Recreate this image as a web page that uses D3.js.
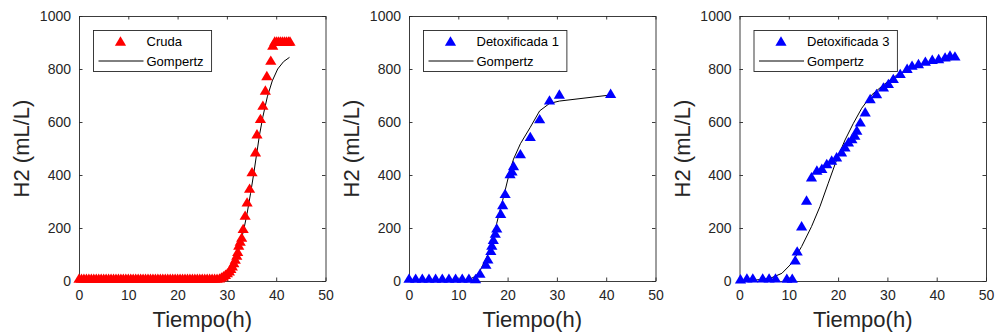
<!DOCTYPE html>
<html><head><meta charset="utf-8">
<script src="https://cdn.jsdelivr.net/npm/d3@7"></script>
<style>
html,body{margin:0;padding:0;background:#fff;}
svg{display:block;font-family:"Liberation Sans",Arial,Helvetica,sans-serif;}
</style></head>
<body><svg id="chart" width="995" height="335"></svg>
<script>
// ---- data ----
const xTicks = [0, 10, 20, 30, 40, 50];
const yTicks = [0, 200, 400, 600, 800, 1000];
const xLabel = "Tiempo(h)";
const yLabel = "H2 (mL/L)";
const fitName = "Gompertz";
const seriesNames = ["Cruda", "Detoxificada 1", "Detoxificada 3"];
const seriesColors = ["#ff0000", "#0000ff", "#0000ff"];

const crudaTime = [0,0.5,1,1.5,2,2.5,3,3.5,4,4.5,5,5.5,6,6.5,7,7.5,8,8.5,9,9.5,10,10.5,11,11.5,12,12.5,13,13.5,14,14.5,15,15.5,16,16.5,17,17.5,18,18.5,19,19.5,20,20.5,21,21.5,22,22.5,23,23.5,24,24.5,25,25.5,26,26.5,27,27.5,28,28.5,
  28.9,29.3,29.7,30.1,30.5,30.8,31.1,31.4,31.7,32.0,32.2,32.4,32.7,33.0,33.3,33.7,34.1,34.6,35.1,35.8,36.1,36.8,37.3,37.8,38.1,38.9,39.3,39.7,40.1,40.5,40.9,41.3,41.7,42.1,42.5,42.8];
const crudaH2 = [5,5,5,5,5,5,5,5,5,5,5,5,5,5,5,5,5,5,5,5,5,5,5,5,5,5,5,5,5,5,5,5,5,5,5,5,5,5,5,5,5,5,5,5,5,5,5,5,5,5,5,5,5,5,5,5,5,6,
  10,14,20,26,33,42,52,64,77,92,106,130,145,160,193,243,293,345,407,482,550,608,658,715,770,828,885,900,900,900,900,900,900,900,900,900];
const crudaFitTime = [0,28,29,30.3,31.4,32.1,32.7,33.4,34.1,34.8,35.4,36.0,36.6,37.3,38.2,39.2,40.3,41.5,42.7];
const crudaFitH2 =   [3,3,4,10,45,90,140,192,255,331,400,475,550,620,695,755,800,828,844];

const detox1Time = [0,1.35,2.7,4.05,5.4,6.75,8.1,9.45,10.8,12.15,13.5,14.4,15.6,16.0,16.6,16.8,17.1,17.5,17.8,18.6,19.0,19.5,20.5,20.9,21.2,22.6,24.6,26.5,28.5,30.5,40.9];
const detox1H2 =   [5,5,5,5,5,5,5,5,5,5,4,24,58,78,110,130,152,175,195,250,283,325,400,410,430,475,540,607,678,700,703];
const detox1FitTime = [0,1.35,2.7,4.05,5.4,6.75,8.1,9.45,10.8,12.15,13.5,14.4,15.6,16.0,16.6,16.8,17.1,17.5,17.8,18.6,19.0,19.5,20.5,20.9,21.2,22.6,24.6,26.5,28.5,30.5,40.9];
const detox1FitH2 =   [0,0,0,0,0,0,0,1,2,5,18,38,85,100,135,150,170,195,218,278,305,342,418,442,460,518,580,642,670,679,702];

const detox3Time = [0.2,1.5,2.7,4.7,6.0,7.3,9.6,10.7,11.3,11.7,12.6,13.6,14.6,15.7,16.7,17.7,18.7,19.7,20.7,21.4,22.1,22.8,23.4,23.8,24.5,25.5,26.5,27.8,29.2,30.2,31.2,32.6,34.0,35.0,36.3,37.7,39.1,40.4,41.7,42.7,43.7];
const detox3H2 =   [3,6,6,6,6,6,5,5,74,108,203,300,388,413,420,438,451,463,482,501,520,532,545,564,595,633,683,702,727,740,759,778,797,809,815,824,831,834,840,847,844];
const detox3FitTime = [0,3,6.2,8.6,10.6,12.6,14.6,16.3,18.0,19.7,21.4,23.1,24.8,26.8,29.2,31.9,34.6,37.9,41.3,43.7];
const detox3FitH2 =   [1,3,10,29,67,130,205,280,369,457,532,595,652,702,740,777,803,821,831,837];

// ---- layout ----
const panelLefts = [79, 409, 739.5];
const axW = 246.5, axTop = 16, axBottom = 281;

const svg = d3.select("#chart");
const axisColor = "#262626";

const triangle = {
  draw(ctx, size) {
    const w = 5.6, up = 6.2, down = 3.2;
    ctx.moveTo(0, -up); ctx.lineTo(w, down); ctx.lineTo(-w, down); ctx.closePath();
  }
};
const sym = d3.symbol().type(triangle);

const panels = [
  {name: seriesNames[0], color: seriesColors[0], t: crudaTime, v: crudaH2, ft: crudaFitTime, fv: crudaFitH2},
  {name: seriesNames[1], color: seriesColors[1], t: detox1Time, v: detox1H2, ft: detox1FitTime, fv: detox1FitH2},
  {name: seriesNames[2], color: seriesColors[2], t: detox3Time, v: detox3H2, ft: detox3FitTime, fv: detox3FitH2}
];

panels.forEach((p, i) => {
  const x0 = panelLefts[i];
  const x = d3.scaleLinear().domain([0, 50]).range([x0, x0 + axW]);
  const y = d3.scaleLinear().domain([0, 1000]).range([axBottom, axTop]);
  const g = svg.append("g");

  const xb = g.append("g").attr("transform", `translate(0,${axBottom})`)
    .call(d3.axisBottom(x).tickValues(xTicks).tickFormat(d3.format("d")).tickSizeInner(-3.5).tickSizeOuter(0).tickPadding(9));
  const xt = g.append("g").attr("transform", `translate(0,${axTop})`)
    .call(d3.axisTop(x).tickValues(xTicks).tickSizeInner(-3.5).tickSizeOuter(0).tickFormat(""));
  const yl = g.append("g").attr("transform", `translate(${x0},0)`)
    .call(d3.axisLeft(y).tickValues(yTicks).tickFormat(d3.format("d")).tickSizeInner(-3.5).tickSizeOuter(0).tickPadding(8));
  const yr = g.append("g").attr("transform", `translate(${x0 + axW},0)`)
    .call(d3.axisRight(y).tickValues(yTicks).tickSizeInner(-3.5).tickSizeOuter(0).tickFormat(""));
  [xb, xt, yl, yr].forEach(a => {
    a.selectAll("path.domain").attr("stroke", axisColor).attr("stroke-width", 0.9);
    a.selectAll(".tick line").attr("stroke", axisColor).attr("stroke-width", 0.9);
    a.selectAll(".tick text").attr("fill", axisColor).style("font-size", "14px")
      .style("font-family", '"Liberation Sans",Arial,sans-serif');
  });
  g.append("text").attr("x", x(25)).attr("y", 327).attr("text-anchor", "middle")
    .style("font-size", "22px").attr("fill", axisColor).text(xLabel);
  g.append("text").attr("transform", `translate(${x0 - 50},${(axTop + axBottom) / 2}) rotate(-90)`)
    .attr("text-anchor", "middle").style("font-size", "22px").attr("fill", axisColor).text(yLabel);

  const fitData = p.ft.map((t, k) => [t, p.fv[k]]);
  g.append("path").datum(fitData)
    .attr("d", d3.line().x(d => x(d[0])).y(d => y(d[1])))
    .attr("fill", "none").attr("stroke", "#000").attr("stroke-width", 1);

  const pts = p.t.map((t, k) => [t, p.v[k]]);
  g.append("g").selectAll("path").data(pts).join("path")
    .attr("d", sym())
    .attr("transform", d => `translate(${x(d[0])},${y(d[1])})`)
    .attr("fill", p.color);

  const lx = x0 + 14.5, ly = 30.5;
  const lg = g.append("g");
  const box = lg.append("rect").attr("x", lx).attr("y", ly).attr("height", 41)
    .attr("fill", "#fff").attr("stroke", "#262626").attr("stroke-width", 0.9);
  lg.append("path").attr("d", sym()).attr("transform", `translate(${lx + 27},${ly + 12})`).attr("fill", p.color);
  lg.append("line").attr("x1", lx + 5).attr("x2", lx + 50).attr("y1", ly + 30.5).attr("y2", ly + 30.5)
    .attr("stroke", "#000").attr("stroke-width", 1);
  const t1 = lg.append("text").attr("x", lx + 53).attr("y", ly + 15).style("font-size", "13px").attr("fill", "#000").text(p.name);
  const t2 = lg.append("text").attr("x", lx + 53).attr("y", ly + 35).style("font-size", "13px").attr("fill", "#000").text(fitName);
  const tw = Math.max(t1.node().getComputedTextLength(), t2.node().getComputedTextLength());
  box.attr("width", 53 + tw + 8);
});
</script>
</body></html>
